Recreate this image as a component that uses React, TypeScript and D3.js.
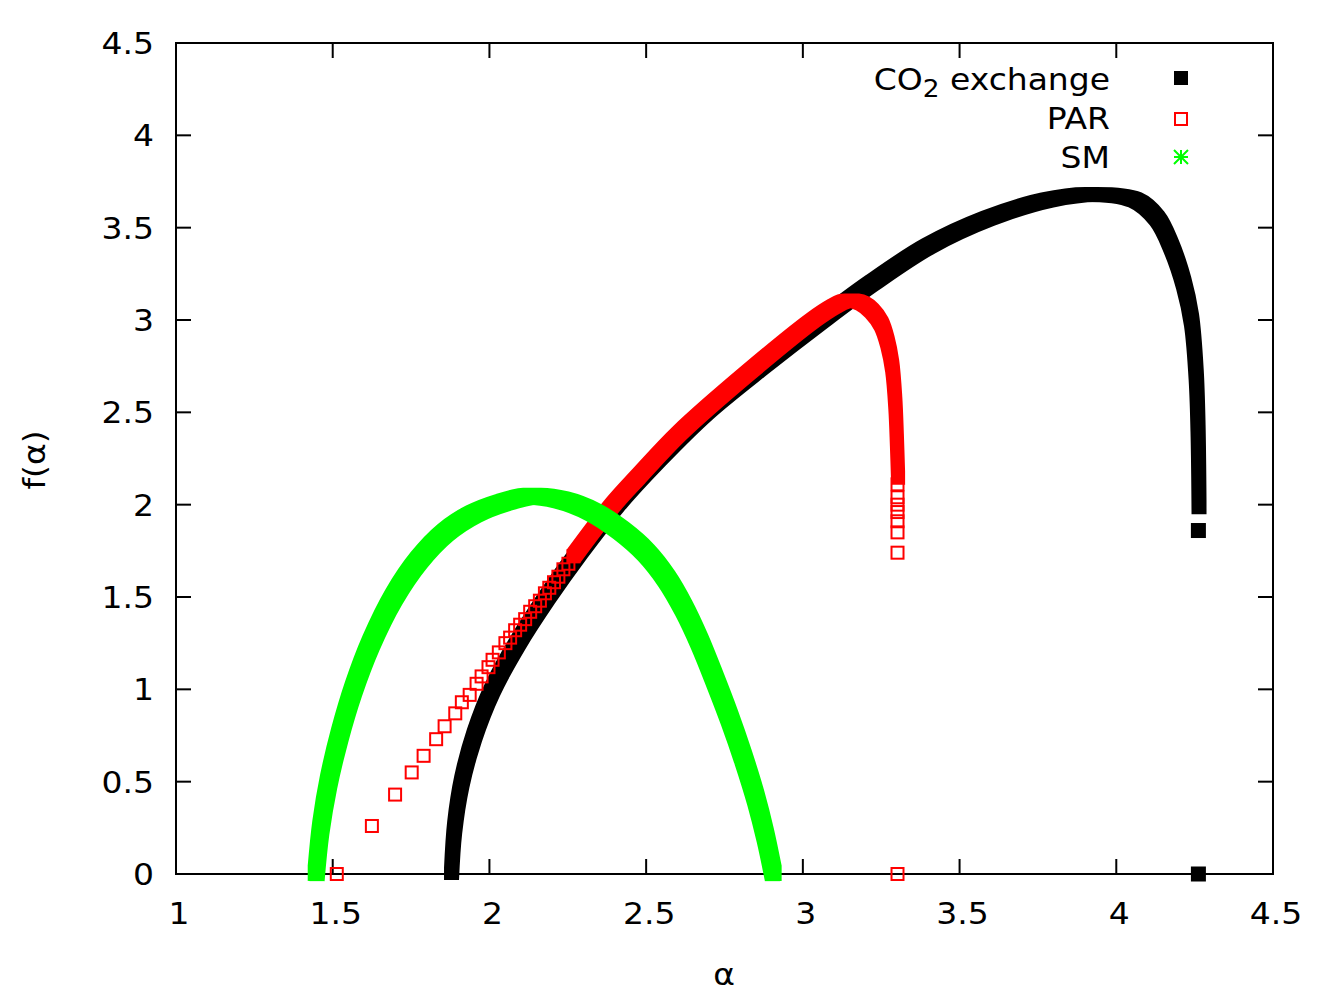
import * as d3 from "d3";

// f(alpha) spectra: dense parts are stored as bands, isolated samples as points
const co2BandAlpha = [
  1.879, 1.889, 1.912, 1.952, 2.01, 2.09, 2.185, 2.29, 2.405, 2.54, 2.69, 2.87, 3.06, 3.22, 3.4, 3.59,
  3.78, 3.92, 4.06, 4.13, 4.175, 4.215, 4.24, 4.255, 4.261, 4.264,
];
const co2BandF = [
  0.0, 0.25, 0.5, 0.75, 1.0, 1.25, 1.5, 1.75, 2.0, 2.25, 2.5, 2.75, 3.0, 3.2, 3.4, 3.55,
  3.65, 3.68, 3.65, 3.55, 3.4, 3.2, 3.0, 2.7, 2.4, 1.98,
];
const co2PointAlpha = [4.262, 4.262];
const co2PointF = [1.86, 0.0];

const parBandAlpha = [2.268, 2.394, 2.474, 2.608, 2.822, 3.033, 3.1, 3.13, 3.16, 3.19, 3.22, 3.25, 3.27, 3.285, 3.295, 3.3, 3.304];
const parBandF = [1.72, 2.0, 2.15, 2.39, 2.71, 3.0, 3.075, 3.1, 3.105, 3.09, 3.05, 2.98, 2.88, 2.75, 2.55, 2.35, 2.14];
const parPointAlpha = [
  1.513, 1.625, 1.699, 1.752, 1.79, 1.83, 1.857, 1.891, 1.912, 1.937, 1.959, 1.975, 1.997, 2.01, 2.03,
  2.051, 2.066, 2.082, 2.098, 2.114, 2.13, 2.146, 2.161, 2.177, 2.191, 2.206, 2.22, 2.236, 2.252, 2.268,
  3.302, 3.302, 3.302, 3.302, 3.302, 3.302, 3.302, 3.302,
];
const parPointF = [
  0.0, 0.26, 0.43, 0.55, 0.64, 0.73, 0.8, 0.87, 0.93, 0.97, 1.03, 1.07, 1.12, 1.16, 1.2,
  1.25, 1.28, 1.32, 1.35, 1.38, 1.42, 1.45, 1.48, 1.52, 1.55, 1.58, 1.61, 1.65, 1.68, 1.72,
  2.11, 2.04, 2.0, 1.96, 1.91, 1.85, 1.74, 0.0,
];

const smBandAlpha = [
  1.447, 1.462, 1.487, 1.522, 1.566, 1.622, 1.695, 1.775, 1.86, 1.95, 2.04, 2.13,
  2.23, 2.33, 2.42, 2.5, 2.565, 2.62, 2.67, 2.72, 2.765, 2.81, 2.85, 2.88, 2.906,
];
const smBandF = [
  0.0, 0.25, 0.5, 0.75, 1.0, 1.25, 1.5, 1.7, 1.85, 1.95, 2.01, 2.045,
  2.025, 1.96, 1.86, 1.74, 1.6, 1.44, 1.26, 1.05, 0.85, 0.63, 0.41, 0.21, 0.0,
];

const xTicks = [1, 1.5, 2, 2.5, 3, 3.5, 4, 4.5];
const yTicks = [0, 0.5, 1, 1.5, 2, 2.5, 3, 3.5, 4, 4.5];

const W = 1334;
const H = 1000;
const left = 176, right = 1273, top = 43, bottom = 874;
const font = "DejaVu Sans, sans-serif";
const fs = 30;
const stretch = 1.1;
const tick = 15;

const zip = (a: number[], b: number[]) => a.map((v, i) => [v, b[i]] as [number, number]);

// text with the slightly wide glyphs of the terminal font
const Label = ({ x, y, anchor, children, rotate = 0, size = fs }: any) => (
  <g transform={`translate(${x},${y}) rotate(${rotate}) scale(${stretch},1)`}>
    <text x={0} y={0} fontSize={size} textAnchor={anchor} fill="#000">
      {children}
    </text>
  </g>
);

export default function App() {
  const x = d3.scaleLinear().domain([1, 4.5]).range([left, right]);
  const y = d3.scaleLinear().domain([0, 4.5]).range([bottom, top]);
  const line = d3
    .line<[number, number]>()
    .x((d) => x(d[0]))
    .y((d) => y(d[1]))
    .curve(d3.curveCatmullRom.alpha(0.5));

  const co2Band = line(zip(co2BandAlpha, co2BandF)) || "";
  const parBand = line(zip(parBandAlpha, parBandF)) || "";
  const smBand = line(zip(smBandAlpha, smBandF)) || "";

  const star = (cx: number, cy: number, r: number) =>
    `M${cx - r},${cy}H${cx + r}M${cx},${cy - r}V${cy + r}` +
    `M${cx - r},${cy - r}L${cx + r},${cy + r}M${cx - r},${cy + r}L${cx + r},${cy - r}`;

  return (
    <svg
      width={W}
      height={H}
      style={{ position: "absolute", left: 0, top: 0, background: "#fff" }}
      fontFamily={font}
    >
      <defs>
        {/* dilating a thin stroke by a square kernel gives the look of densely stacked markers */}
        <filter id="sq6" filterUnits="userSpaceOnUse" x={0} y={0} width={W} height={H}>
          <feMorphology operator="dilate" radius={6} />
        </filter>
        <filter id="sq7" filterUnits="userSpaceOnUse" x={0} y={0} width={W} height={H}>
          <feMorphology operator="dilate" radius={7} />
        </filter>
      </defs>

      {/* frame and mirrored ticks */}
      <rect x={left} y={top} width={right - left} height={bottom - top} fill="none" stroke="#000" strokeWidth={2} />
      {xTicks.map((t) => (
        <g key={"x" + t}>
          <line x1={x(t)} x2={x(t)} y1={bottom} y2={bottom - tick} stroke="#000" strokeWidth={2} />
          <line x1={x(t)} x2={x(t)} y1={top} y2={top + tick} stroke="#000" strokeWidth={2} />
          <Label x={x(t) + 3} y={924} anchor="middle">
            {t}
          </Label>
        </g>
      ))}
      {yTicks.map((t) => (
        <g key={"y" + t}>
          <line x1={left} x2={left + tick} y1={y(t)} y2={y(t)} stroke="#000" strokeWidth={2} />
          <line x1={right} x2={right - tick} y1={y(t)} y2={y(t)} stroke="#000" strokeWidth={2} />
          <Label x={154} y={y(t) + 11} anchor="end">
            {t}
          </Label>
        </g>
      ))}
      <Label x={724} y={985} anchor="middle">
        α
      </Label>
      <Label x={45} y={460} anchor="middle" rotate={-90}>
        f(α)
      </Label>

      {/* CO2 exchange */}
      <path d={co2Band} fill="none" stroke="#000" strokeWidth={3} filter="url(#sq6)" />
      {co2PointAlpha.map((a, i) => (
        <rect key={"c" + i} x={x(a) - 7.5} y={y(co2PointF[i]) - 7.5} width={15} height={15} fill="#000" />
      ))}

      {/* PAR */}
      <path d={parBand} fill="none" stroke="#f00" strokeWidth={2} filter="url(#sq6)" />
      {parPointAlpha.map((a, i) => (
        <rect
          key={"p" + i}
          x={x(a) - 6}
          y={y(parPointF[i]) - 6}
          width={12}
          height={12}
          fill="none"
          stroke="#f00"
          strokeWidth={2}
        />
      ))}

      {/* SM */}
      <path d={smBand} fill="none" stroke="#0f0" strokeWidth={3} filter="url(#sq7)" />

      {/* legend */}
      <Label x={1110} y={90} anchor="end">
        CO<tspan fontSize={24} dy={7}>2</tspan>
        <tspan dy={-7}> exchange</tspan>
      </Label>
      <Label x={1110} y={129} anchor="end">
        PAR
      </Label>
      <Label x={1110} y={168} anchor="end">
        SM
      </Label>
      <rect x={1174} y={71} width={14} height={14} fill="#000" />
      <rect x={1175} y={113} width={12} height={12} fill="none" stroke="#f00" strokeWidth={2} />
      <path d={star(1181, 157, 7)} stroke="#0f0" strokeWidth={2} fill="none" />
    </svg>
  );
}
